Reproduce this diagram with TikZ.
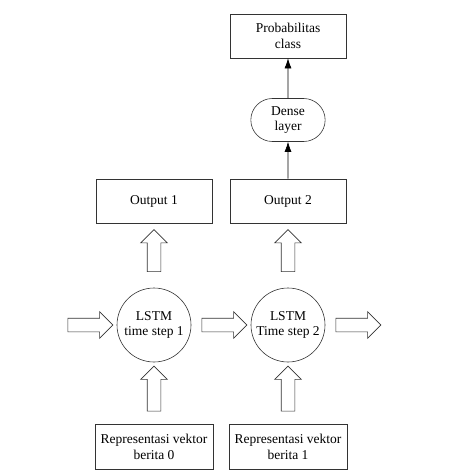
\documentclass[tikz,border=0pt]{standalone}
\usepackage{fontspec}
\setmainfont{Liberation Serif}
\usetikzlibrary{shapes.misc,shapes.arrows,arrows.meta}

\begin{document}
\begin{tikzpicture}[x=1pt,y=1pt,
  txt/.style = {font=\fontsize{13.5}{15.5}\selectfont, align=center, draw=black!80, line width=0.6pt},
  box/.style = {txt, rectangle, minimum width=116pt, minimum height=44pt},
  lstm/.style = {txt, circle, minimum size=74pt, inner sep=0pt},
  dense/.style = {txt, rounded rectangle, minimum width=81pt, minimum height=43pt},
  blockarrow/.style = {draw=black!80, line width=0.6pt, single arrow, inner sep=6.5pt, single arrow head extend=6.5pt, minimum height=#1},
  blockarrow/.default = 45pt]
\useasboundingbox (0,0) rectangle (458,-474);
\node[lstm] (lstm1) at (154,-325) {LSTM\\time step 1};
\node[lstm] (lstm2) [right of=lstm1, node distance=134pt] {LSTM\\Time step 2};
\node[box] (out1) [above of=lstm1, node distance=124pt] {Output 1};
\node[box] (out2) [above of=lstm2, node distance=124pt] {Output 2};
\node[dense] (dense) [above of=out2, node distance=81pt] {Dense\\layer};
\node[box] (prob) [above of=dense, node distance=84pt] {Probabilitas\\class};
\node[box, minimum height=45pt, minimum width=118pt] (in0) [below of=lstm1, node distance=122pt] {Representasi vektor\\berita 0};
\node[box, minimum height=45pt, minimum width=118pt] (in1) [below of=lstm2, node distance=122pt] {Representasi vektor\\berita 1};
% block arrows
\node[blockarrow] (h0) [left of=lstm1, node distance=67pt] {};
\node[blockarrow] (h1) [right of=lstm1, node distance=67pt] {};
\node[blockarrow] (h2) [right of=lstm2, node distance=67pt] {};
\node[blockarrow=42pt, shape border rotate=90] (u1) [above of=lstm1, node distance=71pt] {};
\node[blockarrow=42pt, shape border rotate=90] (u2) [above of=lstm2, node distance=71pt] {};
\node[blockarrow, shape border rotate=90] (v1) [below of=lstm1, node distance=67pt] {};
\node[blockarrow, shape border rotate=90] (v2) [below of=lstm2, node distance=67pt] {};
\draw[-{Latex[length=10pt,width=7pt]}, line width=0.6pt] (out2) -- (dense);
\draw[-{Latex[length=10pt,width=7pt]}, line width=0.6pt] (dense) -- (prob);
\end{tikzpicture}
\end{document}
